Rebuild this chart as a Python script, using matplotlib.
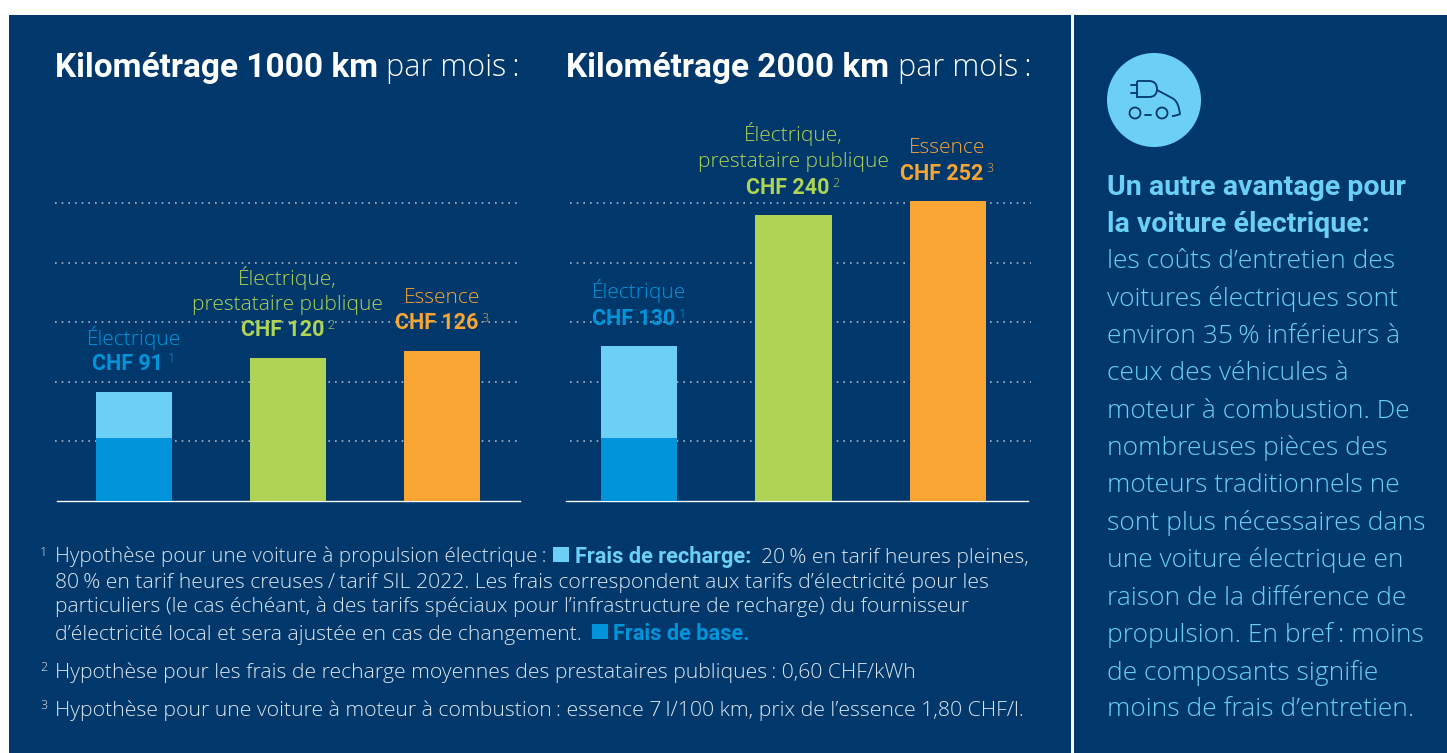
import matplotlib
matplotlib.use('Agg')
import matplotlib.pyplot as plt
from matplotlib.patches import Circle, Rectangle, PathPatch
from matplotlib.path import Path

NAVY = '#00386C'
LIGHT = '#6CCFF6'
BLUE = '#0095DA'
GREEN = '#AFD355'
ORANGE = '#F9A533'
FOOT = '#DDE6EF'

# valeurs (CHF par mois)
positions = [0, 1, 2]
base_fees = [52.5, 52.5]
charge_1000 = [38.5]
charge_2000 = [77.5]
totals_1000 = [91, 120, 126]
totals_2000 = [130, 240, 252]
grid_values = [50, 100, 150, 200, 250]

plt.rcParams['font.family'] = ['Roboto', 'DejaVu Sans']
W, H = 1447, 753
fig = plt.figure(figsize=(W / 100, H / 100), dpi=100, facecolor='white')

# calque en pixels pour le fond et les textes
bg = fig.add_axes([0, 0, 1, 1], zorder=0)
bg.set_xlim(0, W)
bg.set_ylim(H, 0)
bg.axis('off')
bg.add_patch(Rectangle((9, 15), 1062, 738, color=NAVY, lw=0))
bg.add_patch(Rectangle((1074, 15), 373, 738, color=NAVY, lw=0))

top = fig.add_axes([0, 0, 1, 1], zorder=5)
top.set_xlim(0, W)
top.set_ylim(H, 0)
top.axis('off')
top.patch.set_alpha(0)


def txt(x, y, s, size=14, color='white', weight='light', ha='left'):
    # y = milieu des majuscules, en pixels
    fam = ['Roboto', 'DejaVu Sans'] if weight == 'bold' else ['Open Sans', 'Roboto', 'DejaVu Sans']
    return top.text(x, y + 0.355 * size * 100 / 72, s, fontsize=size, color=color,
                    fontweight=weight, ha=ha, va='baseline', family=fam)


def chart(left, right, xlim, grid_span, totals, base, charge):
    ax = fig.add_axes([left / W, 1 - 500.5 / H, (right - left) / W, 357 / H], zorder=2)
    ax.patch.set_alpha(0)
    ax.set_xlim(*xlim)
    ax.set_ylim(0, 300)
    for v in grid_values:
        ax.plot(grid_span, [v, v], transform=ax.get_yaxis_transform(),
                color='#A6B7CB', lw=1.2, ls=(0, (1, 3)), clip_on=False, zorder=1)
    ax.bar(positions[0], base[0], 0.494, color=BLUE, zorder=3)
    ax.bar(positions[0], charge[0], 0.494, bottom=base[0], color=LIGHT, zorder=3)
    ax.bar(positions[1], totals[1], 0.494, color=GREEN, zorder=3)
    ax.bar(positions[2], totals[2], 0.494, color=ORANGE, zorder=3)
    for s in ['top', 'right', 'left']:
        ax.spines[s].set_visible(False)
    ax.spines['bottom'].set_color('white')
    ax.spines['bottom'].set_linewidth(1.0)
    ax.set_xticks([])
    ax.set_yticks([])
    return ax


chart(57, 520, (-0.5, 2.506), (-0.004, 0.994), totals_1000, base_fees, charge_1000)
chart(566, 1028, (-0.4725, 2.518), (0.009, 1.007), totals_2000, base_fees, charge_2000)

# titres
txt(55, 65, 'Kilométrage 1000 km', 24, weight='bold')
txt(386, 65, 'par mois\u2009:', 22)
txt(566, 65, 'Kilométrage 2000 km', 24, weight='bold')
txt(898, 65, 'par mois\u2009:', 22)

# étiquettes des barres
LAB = 15
BLD = 15.5
SUP = 9
txt(134, 338, 'Électrique', LAB, BLUE, ha='center')
txt(128, 362, f'CHF {totals_1000[0]}', BLD, BLUE, 'bold', ha='center')
txt(168, 358, '1', SUP, BLUE)
txt(287, 278, 'Électrique,', LAB, GREEN, ha='center')
txt(287, 303, 'prestataire publique', LAB, GREEN, ha='center')
txt(283, 328, f'CHF {totals_1000[1]}', BLD, GREEN, 'bold', ha='center')
txt(327, 325, '2', SUP, GREEN)
txt(442, 296, 'Essence', LAB, ORANGE, ha='center')
txt(437, 321, f'CHF {totals_1000[2]}', BLD, ORANGE, 'bold', ha='center')
txt(481, 318, '3', SUP, ORANGE)

txt(639, 291, 'Électrique', LAB, BLUE, ha='center')
txt(634, 317, f'CHF {totals_2000[0]}', BLD, BLUE, 'bold', ha='center')
txt(679, 314, '1', SUP, BLUE)
txt(793, 134, 'Électrique,', LAB, GREEN, ha='center')
txt(793, 160, 'prestataire publique', LAB, GREEN, ha='center')
txt(788, 186, f'CHF {totals_2000[1]}', BLD, GREEN, 'bold', ha='center')
txt(832, 183, '2', SUP, GREEN)
txt(947, 146, 'Essence', LAB, ORANGE, ha='center')
txt(942, 172, f'CHF {totals_2000[2]}', BLD, ORANGE, 'bold', ha='center')
txt(986, 168, '3', SUP, ORANGE)

# notes
FS = 15.25
FB = 15.7
txt(40, 552, '1', SUP, FOOT)
txt(55, 555, 'Hypothèse pour une voiture à propulsion électrique\u2009:', 14.85, FOOT)
top.add_patch(Rectangle((553, 547), 16, 15, color=LIGHT, lw=0))
txt(575, 555, 'Frais de recharge:', FB, LIGHT, 'bold')
txt(761, 555, '20\u2009% en tarif heures pleines,', FS, FOOT)
txt(55, 580, '80\u2009% en tarif heures creuses\u2009/\u2009tarif SIL 2022. Les frais correspondent aux tarifs d’électricité pour les', FS, FOOT)
txt(55, 605, 'particuliers (le cas échéant, à des tarifs spéciaux pour l’infrastructure de recharge) du fournisseur', 15.1, FOOT)
txt(55, 632, 'd’électricité local et sera ajustée en cas de changement.', FS, FOOT)
top.add_patch(Rectangle((592, 624), 16, 15, color=BLUE, lw=0))
txt(613, 632, 'Frais de base.', FB, BLUE, 'bold')
txt(40, 667, '2', SUP, FOOT)
txt(55, 670, 'Hypothèse pour les frais de recharge moyennes des prestataires publiques\u2009: 0,60 CHF/kWh', FS, FOOT)
txt(40, 705, '3', SUP, FOOT)
txt(55, 708, 'Hypothèse pour une voiture à moteur à combustion\u2009: essence 7\u2009l/100 km, prix de l’essence 1,80 CHF/l.', 15.3, FOOT)

# colonne de droite
side_bold = ['Un autre avantage pour', 'la voiture électrique:']
side_lines = ['les coûts d’entretien des', 'voitures électriques sont', 'environ 35\u2009% inférieurs à',
              'ceux des véhicules à', 'moteur à combustion. De', 'nombreuses pièces des',
              'moteurs traditionnels ne', 'sont plus nécessaires dans', 'une voiture électrique en',
              'raison de la différence de', 'propulsion. En bref\u2009: moins', 'de composants signifie',
              'moins de frais d’entretien.']
side_y = [185, 222, 259, 297, 334, 371, 409, 446, 483, 521, 558, 596, 633, 671, 707]
for s, y in zip(side_bold, side_y[:2]):
    txt(1107, y, s, 20.5, LIGHT, 'bold')
for s, y in zip(side_lines, side_y[2:]):
    txt(1107, y, s, 19, LIGHT)

# pictogramme
top.add_patch(Circle((1154, 100), 47, color=LIGHT, lw=0))
ic = dict(color=NAVY, lw=1.3, solid_capstyle='round')
top.plot([1131, 1137], [85, 85], **ic)
top.plot([1131, 1137], [93, 93], **ic)
top.add_patch(PathPatch(Path([(1137, 81), (1149, 81), (1157, 81), (1157, 89), (1157, 97), (1149, 97), (1137, 97), (1137, 81)],
                             [1, 2, 3, 3, 3, 3, 2, 2]), fc='none', ec=NAVY, lw=1.3))
top.add_patch(PathPatch(Path([(1157, 90), (1172, 98), (1178, 101), (1179, 108), (1180, 114), (1176, 116), (1172, 116)],
                             [1, 2, 4, 4, 2, 3, 3]), fc='none', ec=NAVY, lw=1.3))
top.add_patch(Circle((1135, 113), 5.5, fc='none', ec=NAVY, lw=1.3))
top.add_patch(Circle((1162, 113), 5.5, fc='none', ec=NAVY, lw=1.3))
top.plot([1145, 1151], [115, 115], **ic)

fig.savefig('out.png', dpi=100, facecolor='white')
